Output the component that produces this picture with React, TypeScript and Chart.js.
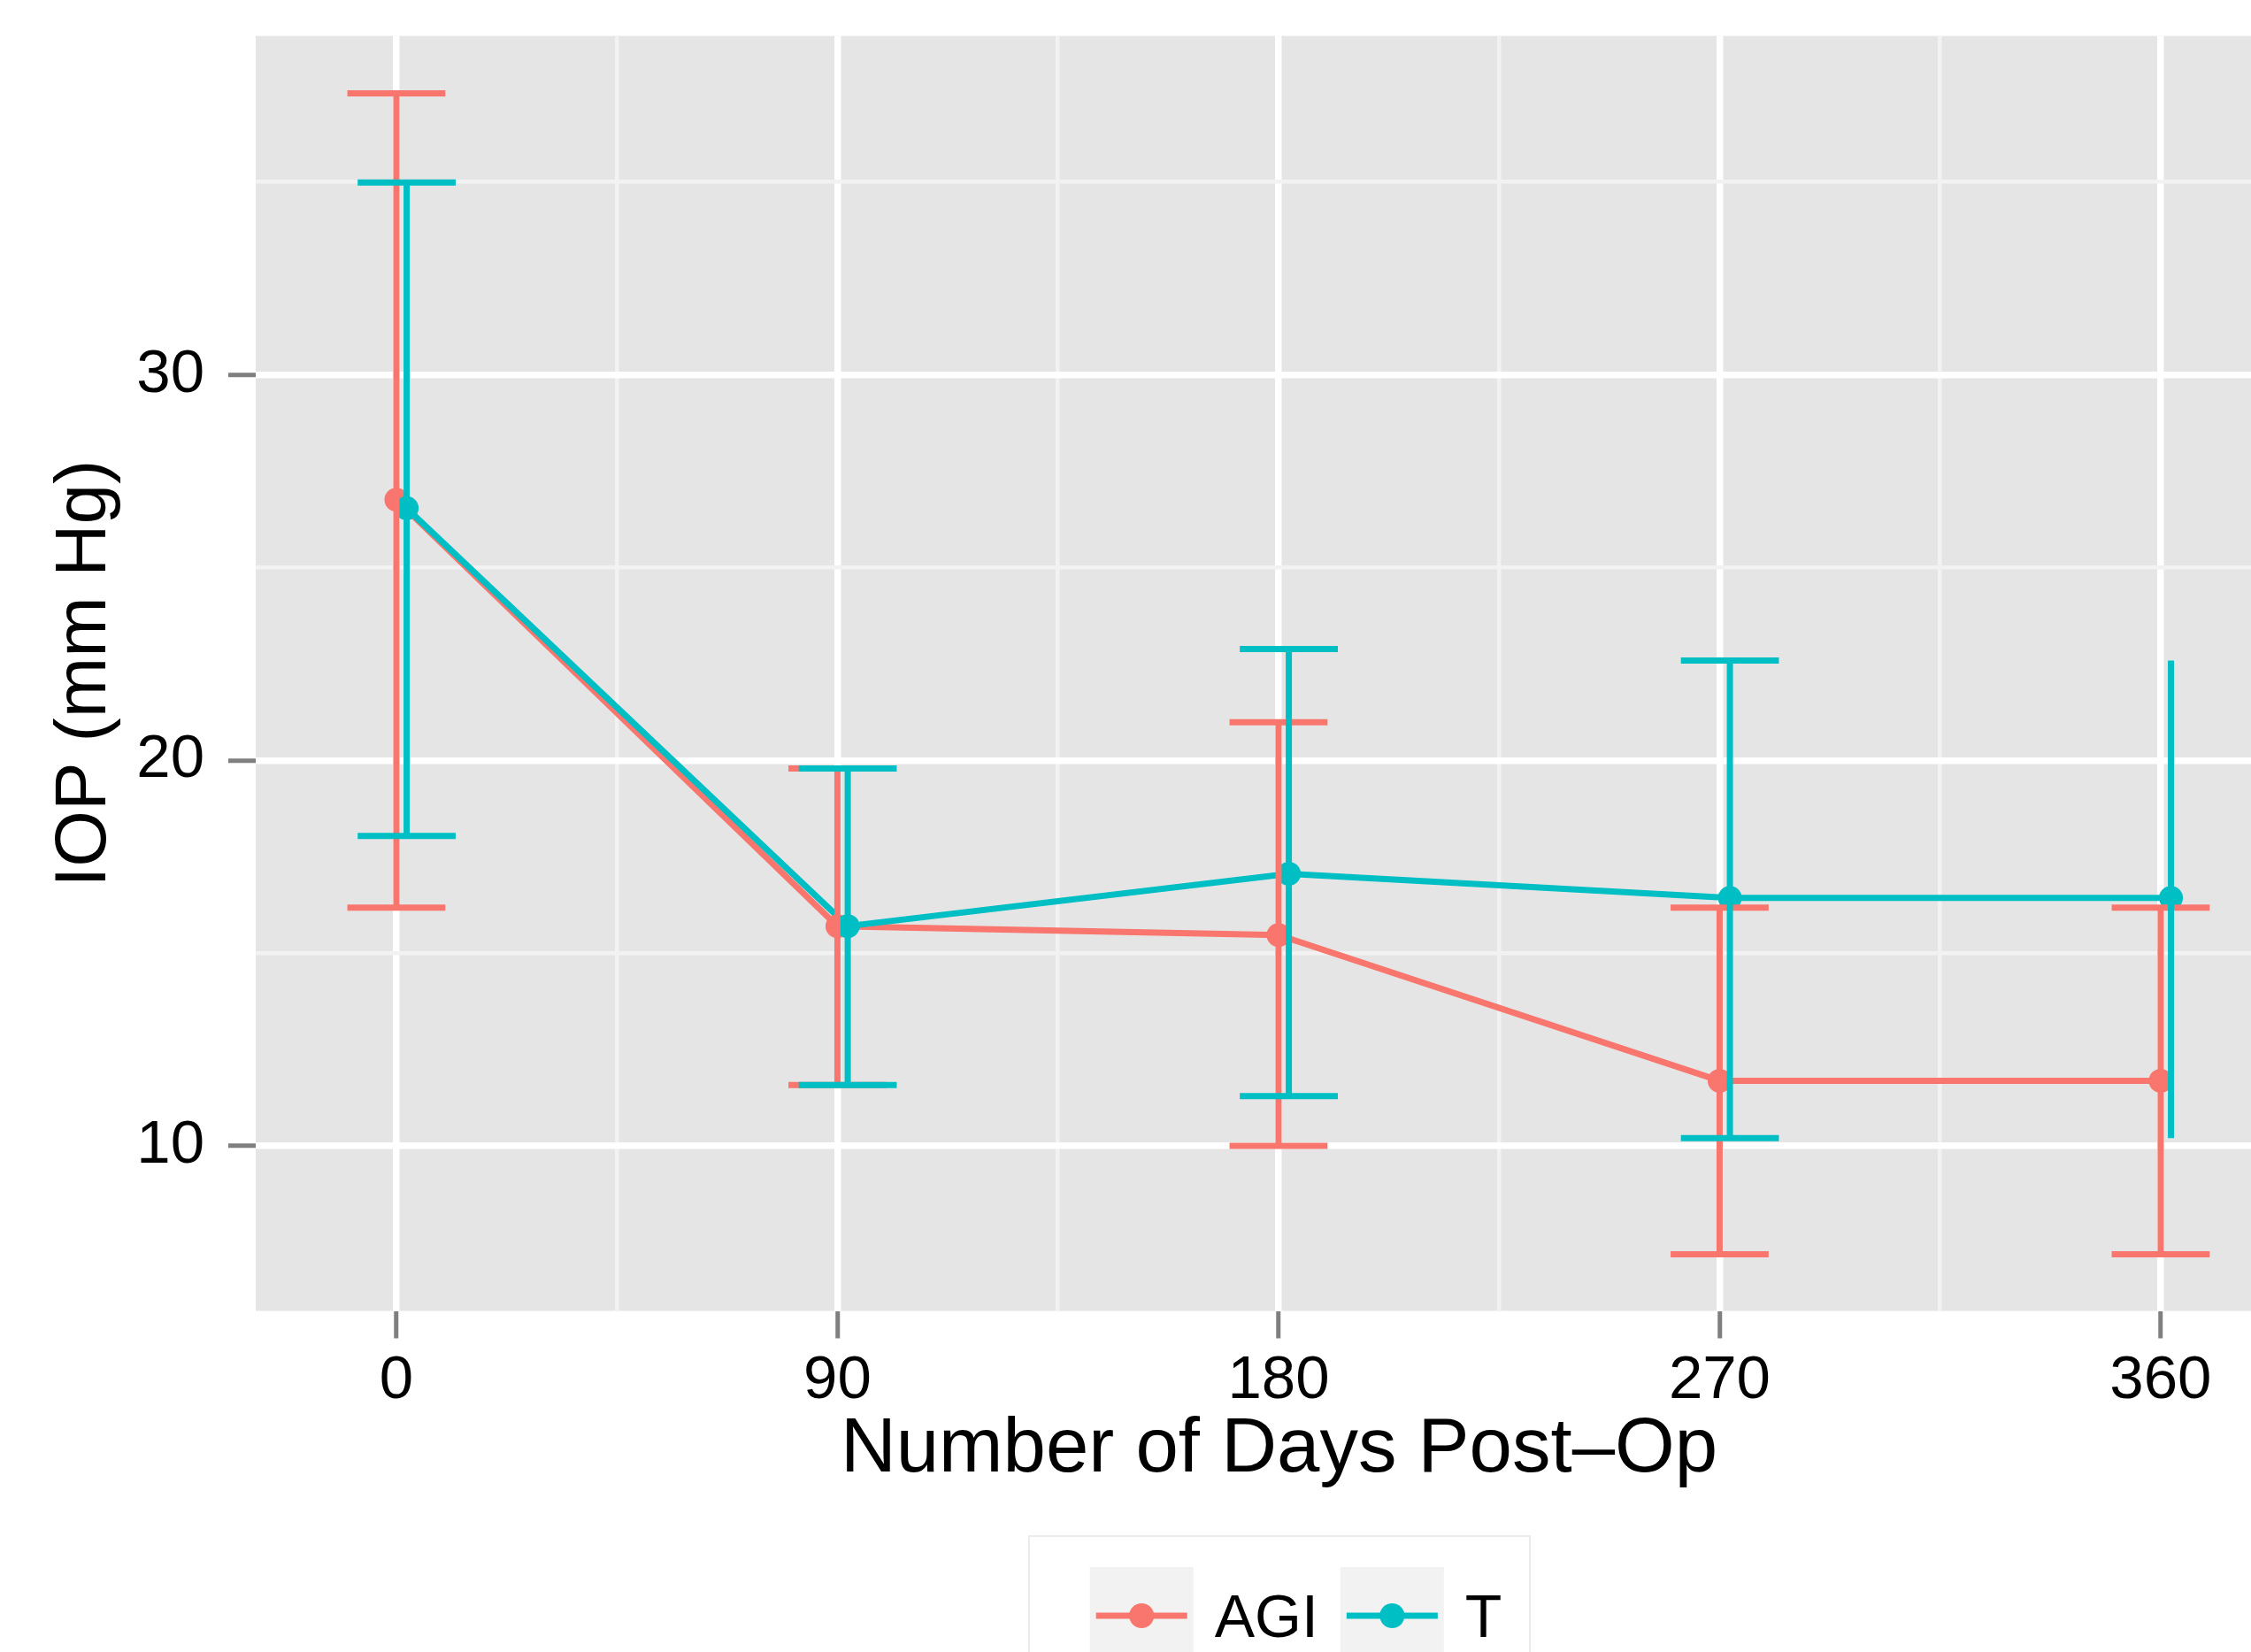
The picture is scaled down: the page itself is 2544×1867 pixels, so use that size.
import React, { useEffect, useRef } from "react";
import { Chart, registerables } from "chart.js";

Chart.register(...registerables);

// ---------------- data ----------------
const seriesNames = ["AGI", "T"];
const seriesColors = ["#F8766D", "#00BFC4"];

const agiDays = [0, 90, 180, 270, 360];
const agiMean = [26.76, 15.7, 15.47, 11.69, 11.69];
const agiLow = [16.18, 11.58, 10.0, 7.19, 7.19];
const agiHigh = [37.3, 19.79, 20.99, 16.18, 16.18];
const agiCaps = [true, true, true, true, true];

const tDays = [2.1, 92.1, 182.1, 272.1, 362.1];
const tMean = [26.54, 15.7, 17.06, 16.43, 16.43];
const tLow = [18.04, 11.58, 11.29, 10.2, 10.2];
const tHigh = [34.99, 19.79, 22.89, 22.59, 22.59];
const tCaps = [true, true, true, true, false];

const xMajorTicks = [0, 90, 180, 270, 360];
const xMinorTicks = [45, 135, 225, 315];
const yMajorTicks = [10, 20, 30];
const yMinorTicks = [15, 25, 35];
const xLimits = [-28.7, 388.9];
const yLimits = [5.72, 38.79];
const capHalfWidth = 10;

const xTitle = "Number of Days Post\u2013Op";
const yTitle = "IOP (mm Hg)";

// ---------------- style ----------------
const FONT = '"Liberation Sans", Arial, Helvetica, sans-serif';
const CANVAS_W = 2602;
const CANVAS_H = 1867;
const PANEL_BG = "#E5E5E5";
const GRID_MAJOR = "#FFFFFF";
const GRID_MINOR = "#F2F2F2";
const TICK_COLOR = "#7F7F7F";
const LINE_W = 7;
const POINT_R = 13.5;
const GRID_MAJOR_W = 7.5;
const GRID_MINOR_W = 4.5;

const errorSeries = [
  { days: agiDays, low: agiLow, high: agiHigh, caps: agiCaps, color: seriesColors[0] },
  { days: tDays, low: tLow, high: tHigh, caps: tCaps, color: seriesColors[1] },
];

const panelBgPlugin = {
  id: "panelBg",
  beforeDraw(chart: any) {
    const { ctx, chartArea } = chart;
    ctx.save();
    ctx.fillStyle = "#FFFFFF";
    ctx.fillRect(0, 0, chart.width, chart.height);
    ctx.fillStyle = PANEL_BG;
    ctx.fillRect(chartArea.left, chartArea.top, chartArea.right - chartArea.left, chartArea.bottom - chartArea.top);
    ctx.restore();
  },
};

const errorBarPlugin = {
  id: "errorBars",
  afterDatasetsDraw(chart: any) {
    const { ctx, chartArea } = chart;
    const xs = chart.scales.x;
    const ys = chart.scales.y;
    ctx.save();
    ctx.beginPath();
    ctx.rect(chartArea.left, chartArea.top, chartArea.right - chartArea.left, chartArea.bottom - chartArea.top);
    ctx.clip();
    ctx.lineWidth = LINE_W;
    ctx.lineCap = "butt";
    errorSeries.forEach((s) => {
      ctx.strokeStyle = s.color;
      s.days.forEach((d, i) => {
        const px = xs.getPixelForValue(d);
        const pl = ys.getPixelForValue(s.low[i]);
        const ph = ys.getPixelForValue(s.high[i]);
        ctx.beginPath();
        ctx.moveTo(px, pl);
        ctx.lineTo(px, ph);
        ctx.stroke();
        if (s.caps[i]) {
          const x0 = xs.getPixelForValue(d - capHalfWidth);
          const x1 = xs.getPixelForValue(d + capHalfWidth);
          [pl, ph].forEach((py) => {
            ctx.beginPath();
            ctx.moveTo(x0, py);
            ctx.lineTo(x1, py);
            ctx.stroke();
          });
        }
      });
    });
    ctx.restore();
  },
};

const legendPlugin = {
  id: "ggLegend",
  afterDraw(chart: any) {
    const { ctx, chartArea } = chart;
    const cx = (chartArea.left + chartArea.right) / 2;
    const base = chartArea.bottom;
    ctx.save();
    // legend box
    ctx.strokeStyle = "#EBEBEB";
    ctx.lineWidth = 2;
    ctx.strokeRect(cx - 282.5, base + 254.5, 566, 400);
    ctx.font = `68px ${FONT}`;
    ctx.textBaseline = "alphabetic";
    ctx.textAlign = "left";
    let x = cx - 213.8;
    const keyTop = base + 289.5;
    const keyW = 117;
    const keyMid = base + 344.5;
    seriesNames.forEach((name, i) => {
      ctx.fillStyle = GRID_MINOR;
      ctx.fillRect(x, keyTop, keyW, 130);
      ctx.strokeStyle = seriesColors[i];
      ctx.lineWidth = LINE_W;
      ctx.beginPath();
      ctx.moveTo(x + 7, keyMid);
      ctx.lineTo(x + keyW - 7, keyMid);
      ctx.stroke();
      ctx.fillStyle = seriesColors[i];
      ctx.beginPath();
      ctx.arc(x + keyW / 2, keyMid, POINT_R + 0.5, 0, Math.PI * 2);
      ctx.fill();
      ctx.fillStyle = "#000000";
      const tx = x + 141;
      ctx.fillText(name, tx, base + 368.5);
      x = tx + ctx.measureText(name).width + 25;
    });
    ctx.restore();
  },
};

const isMajorX = (v: number) => xMajorTicks.includes(v);
const isMajorY = (v: number) => yMajorTicks.includes(v);

export default function App() {
  const canvasRef = useRef<HTMLCanvasElement | null>(null);

  useEffect(() => {
    const canvas = canvasRef.current;
    if (!canvas) return;
    const toXY = (xs: number[], ys: number[]) => xs.map((d, i) => ({ x: d, y: ys[i] }));

    const chart = new Chart(canvas, {
      type: "line",
      data: {
        datasets: [
          {
            label: seriesNames[0] + " line",
            data: toXY(agiDays, agiMean),
            borderColor: seriesColors[0],
            borderWidth: LINE_W,
            pointRadius: 0,
            tension: 0,
            order: 4,
          },
          {
            label: seriesNames[1] + " line",
            data: toXY(tDays, tMean),
            borderColor: seriesColors[1],
            borderWidth: LINE_W,
            pointRadius: 0,
            tension: 0,
            order: 3,
          },
          {
            label: seriesNames[0],
            data: toXY(agiDays, agiMean),
            showLine: false,
            pointRadius: POINT_R,
            pointHoverRadius: POINT_R,
            pointBorderWidth: 0,
            pointBackgroundColor: seriesColors[0],
            borderColor: seriesColors[0],
            order: 2,
          },
          {
            label: seriesNames[1],
            data: toXY(tDays, tMean),
            showLine: false,
            pointRadius: POINT_R,
            pointHoverRadius: POINT_R,
            pointBorderWidth: 0,
            pointBackgroundColor: seriesColors[1],
            borderColor: seriesColors[1],
            order: 1,
          },
        ],
      },
      options: {
        animation: false,
        responsive: false,
        devicePixelRatio: 1,
        events: [],
        layout: { autoPadding: false, padding: { top: 40.6, left: 0, right: 0, bottom: 0 } },
        plugins: {
          legend: { display: false },
          tooltip: { enabled: false },
        },
        scales: {
          x: {
            type: "linear",
            min: xLimits[0],
            max: xLimits[1],
            afterBuildTicks: (axis: any) => {
              axis.ticks = [...xMajorTicks, ...xMinorTicks].sort((a, b) => a - b).map((v) => ({ value: v }));
            },
            afterFit: (axis: any) => {
              axis.height = 385.5;
              axis.paddingLeft = 0;
              axis.paddingRight = 0;
            },
            ticks: {
              autoSkip: false,
              maxRotation: 0,
              padding: 7,
              color: "#000000",
              font: { size: 69, family: FONT },
              callback: (v: any) => (isMajorX(Number(v)) ? String(v) : ""),
            },
            grid: {
              color: (c: any) => (isMajorX(c.tick?.value) ? GRID_MAJOR : GRID_MINOR),
              lineWidth: (c: any) => (isMajorX(c.tick?.value) ? GRID_MAJOR_W : GRID_MINOR_W),
              tickColor: (c: any) => (isMajorX(c.tick?.value) ? TICK_COLOR : "rgba(0,0,0,0)"),
              tickLength: 31,
              tickWidth: 5,
            },
            border: { display: false },
            title: {
              display: true,
              text: xTitle,
              color: "#000000",
              font: { size: 87, family: FONT },
              padding: { top: 0, bottom: 176 },
            },
          },
          y: {
            type: "linear",
            min: yLimits[0],
            max: yLimits[1],
            afterBuildTicks: (axis: any) => {
              axis.ticks = [...yMajorTicks, ...yMinorTicks].sort((a, b) => a - b).map((v) => ({ value: v }));
            },
            afterFit: (axis: any) => {
              axis.width = 289;
              axis.paddingTop = 0;
              axis.paddingBottom = 0;
            },
            ticks: {
              autoSkip: false,
              padding: 27,
              color: "#000000",
              font: { size: 69, family: FONT },
              callback: (v: any) => (isMajorY(Number(v)) ? String(v) : ""),
            },
            grid: {
              color: (c: any) => (isMajorY(c.tick?.value) ? GRID_MAJOR : GRID_MINOR),
              lineWidth: (c: any) => (isMajorY(c.tick?.value) ? GRID_MAJOR_W : GRID_MINOR_W),
              tickColor: (c: any) => (isMajorY(c.tick?.value) ? TICK_COLOR : "rgba(0,0,0,0)"),
              tickLength: 31,
              tickWidth: 5,
            },
            border: { display: false },
            title: {
              display: true,
              text: yTitle,
              color: "#000000",
              font: { size: 82, family: FONT },
              padding: { top: 47.3, bottom: 0 },
            },
          },
        },
      },
      plugins: [panelBgPlugin, errorBarPlugin, legendPlugin],
    } as any);

    return () => chart.destroy();
  }, []);

  return (
    <div
      style={{
        position: "fixed",
        left: 0,
        top: 0,
        width: 2544,
        height: 1867,
        overflow: "hidden",
        background: "#FFFFFF",
      }}
    >
      <canvas
        ref={canvasRef}
        width={CANVAS_W}
        height={CANVAS_H}
        style={{ display: "block", width: CANVAS_W, height: CANVAS_H }}
      />
    </div>
  );
}
